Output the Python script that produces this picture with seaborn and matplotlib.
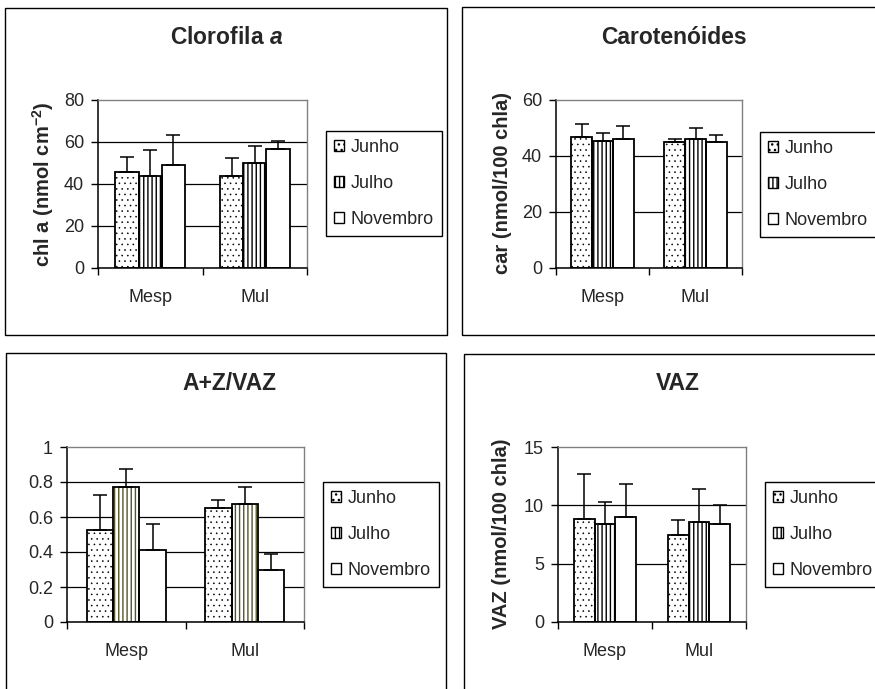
import matplotlib
matplotlib.use("Agg")
import matplotlib.patches as mpatches
import matplotlib.pyplot as plt
import pandas as pd
import seaborn as sns

# ------------------------------------------------------------------
# dados (linhas = mês, colunas = local)
# ------------------------------------------------------------------
SITES = ["Mesp", "Mul"]
MONTHS = ["Junho", "Julho", "Novembro"]

chl_mean = [[45.5, 43.9], [43.9, 49.9], [49.1, 56.9]]
chl_sd = [[7.5, 8.7], [12.2, 8.1], [14.2, 3.7]]

car_mean = [[46.9, 44.9], [45.3, 46.2], [46.2, 44.9]]
car_sd = [[4.5, 1.3], [2.8, 3.9], [4.5, 2.6]]

az_mean = [[0.528, 0.653], [0.770, 0.672], [0.410, 0.295]]
az_sd = [[0.200, 0.042], [0.106, 0.098], [0.152, 0.095]]

vaz_mean = [[8.86, 7.43], [8.40, 8.54], [9.00, 8.40]]
vaz_sd = [[3.80, 1.28], [1.89, 2.83], [2.86, 1.60]]

HATCHES = ["...", "||||", ""]
HATCH_LW = [0.4, 1.0, 1.0]

W, H = 875, 689

sns.set_style("white")
plt.rcParams["font.family"] = ["Liberation Sans", "DejaVu Sans"]
plt.rcParams["mathtext.fontset"] = "custom"
plt.rcParams["mathtext.rm"] = "Liberation Sans:bold"
plt.rcParams["mathtext.it"] = "Liberation Sans:italic:bold"
plt.rcParams["mathtext.bf"] = "Liberation Sans:bold"
plt.rcParams["mathtext.default"] = "rm"
plt.rcParams["hatch.linewidth"] = 1.0


def fx(px):
    return px / W


def fy(py):
    return 1 - py / H


def to_long(mean):
    rows = []
    for month, vals in zip(MONTHS, mean):
        for site, v in zip(SITES, vals):
            rows.append({"site": site, "month": month, "value": v})
    return pd.DataFrame(rows)


def set_hatch_lw(patch, lw):
    if hasattr(patch, "set_hatch_linewidth"):
        patch.set_hatch_linewidth(lw)


def draw_panel(fig, box, mean, sd, yticks, ytick_labels, julho_color,
               title, title_xy, ylabel, ylabel_xy, legend_xy, frame):
    left, top, right, bottom = box
    ax = fig.add_axes([fx(left), fy(bottom), fx(right - left), (bottom - top) / H])

    df = to_long(mean)
    sns.barplot(
        data=df, x="site", y="value", hue="month",
        order=SITES, hue_order=MONTHS,
        palette=["white"] * 3, saturation=1,
        width=0.667, gap=0, errorbar=None, legend=False, ax=ax,
    )

    hatch_colors = ["black", julho_color, "black"]
    bar_containers = list(ax.containers)
    for i, container in enumerate(bar_containers):
        for j, bar in enumerate(container.patches):
            bar.set_edgecolor(hatch_colors[i])
            bar.set_linewidth(0)
            bar.set_hatch(HATCHES[i])
            set_hatch_lw(bar, HATCH_LW[i])
            bar.set_zorder(2)
            ax.add_patch(mpatches.Rectangle(
                bar.get_xy(), bar.get_width(), bar.get_height(),
                fill=False, edgecolor="black", linewidth=1.3, zorder=3,
            ))
            cx = bar.get_x() + bar.get_width() / 2
            ax.errorbar(
                cx, bar.get_height(), yerr=[[0], [sd[i][j]]],
                fmt="none", ecolor="black", elinewidth=1.1,
                capsize=5, capthick=1.1, zorder=4,
            )

    ax.set_xlim(-0.5, 1.5)
    ax.set_ylim(yticks[0], yticks[-1])
    ax.set_yticks(yticks)
    ax.set_yticklabels(ytick_labels)
    ax.set_xticks([-0.5, 0.5, 1.5], minor=True)
    ax.tick_params(axis="x", which="major", length=0, pad=15, labelsize=13)
    ax.tick_params(axis="x", which="minor", length=5, width=1.0,
                   direction="out", color="black", bottom=True)
    ax.tick_params(axis="y", length=5, width=1.0, direction="out",
                   color="black", pad=5, labelsize=13, left=True)
    ax.set_xlabel("")
    ax.set_ylabel("")

    ax.set_axisbelow(True)
    ax.yaxis.grid(True, color="black", linewidth=0.9)
    ax.get_ygridlines()[-1].set_visible(False)

    for side in ["left", "bottom"]:
        ax.spines[side].set_color("black")
        ax.spines[side].set_linewidth(1.1)
    for side in ["top", "right"]:
        ax.spines[side].set_color("#808080")
        ax.spines[side].set_linewidth(1.0)

    handles = []
    for h, lw in zip(HATCHES, HATCH_LW):
        patch = mpatches.Patch(facecolor="white", edgecolor="black", hatch=h, linewidth=1.0)
        set_hatch_lw(patch, lw)
        handles.append(patch)
    leg = ax.legend(
        handles, MONTHS, loc="upper left",
        bbox_to_anchor=(fx(legend_xy[0]), fy(legend_xy[1])),
        bbox_transform=fig.transFigure, borderaxespad=0,
        frameon=True, fancybox=False, edgecolor="black", framealpha=1,
        fontsize=13, handlelength=0.55, handleheight=0.55,
        handletextpad=0.35, labelspacing=1.05, borderpad=0.45,
    )
    leg.get_frame().set_linewidth(1.0)

    fig.text(fx(title_xy[0]), fy(title_xy[1]), title, ha="center",
             va="baseline", fontsize=16.5, fontweight="bold")
    if ylabel:
        fig.text(fx(ylabel_xy[0]), fy(ylabel_xy[1]), ylabel, rotation=90,
                 ha="center", va="center", fontsize=14.5, fontweight="bold")

    fx0, fy0, fx1, fy1 = frame
    fig.add_artist(mpatches.Rectangle(
        (fx(fx0), fy(fy1)), fx(fx1 - fx0), (fy1 - fy0) / H,
        transform=fig.transFigure, fill=False, edgecolor="black", linewidth=1.0,
    ))
    return ax


fig = plt.figure(figsize=(W / 100, H / 100), dpi=100)

draw_panel(
    fig, (98, 100, 307, 268), chl_mean, chl_sd,
    [0, 20, 40, 60, 80], ["0", "20", "40", "60", "80"], "black",
    r"Clorofila $\mathit{a}$", (227, 44), r"chl a (nmol cm$^{-2}$)", (43.5, 184),
    (326, 131), (5, 8, 447, 335),
)
draw_panel(
    fig, (556, 100, 742, 268), car_mean, car_sd,
    [0, 20, 40, 60], ["0", "20", "40", "60"], "black",
    "Carotenóides", (674, 44), "car (nmol/100 chla)", (502, 183),
    (760, 132), (462, 7, 890, 335),
)
draw_panel(
    fig, (67, 447, 304, 622), az_mean, az_sd,
    [0, 0.2, 0.4, 0.6, 0.8, 1.0], ["0", "0.2", "0.4", "0.6", "0.8", "1"], "#55552a",
    "A+Z/VAZ", (229, 390), None, None,
    (323, 482), (6, 353, 446, 700),
)
draw_panel(
    fig, (558, 447, 746, 622), vaz_mean, vaz_sd,
    [0, 5, 10, 15], ["0", "5", "10", "15"], "black",
    "VAZ", (678, 390), "VAZ (nmol/100 chla)", (501, 534),
    (765, 482), (464, 354, 890, 700),
)

fig.savefig("out.png", dpi=100)
